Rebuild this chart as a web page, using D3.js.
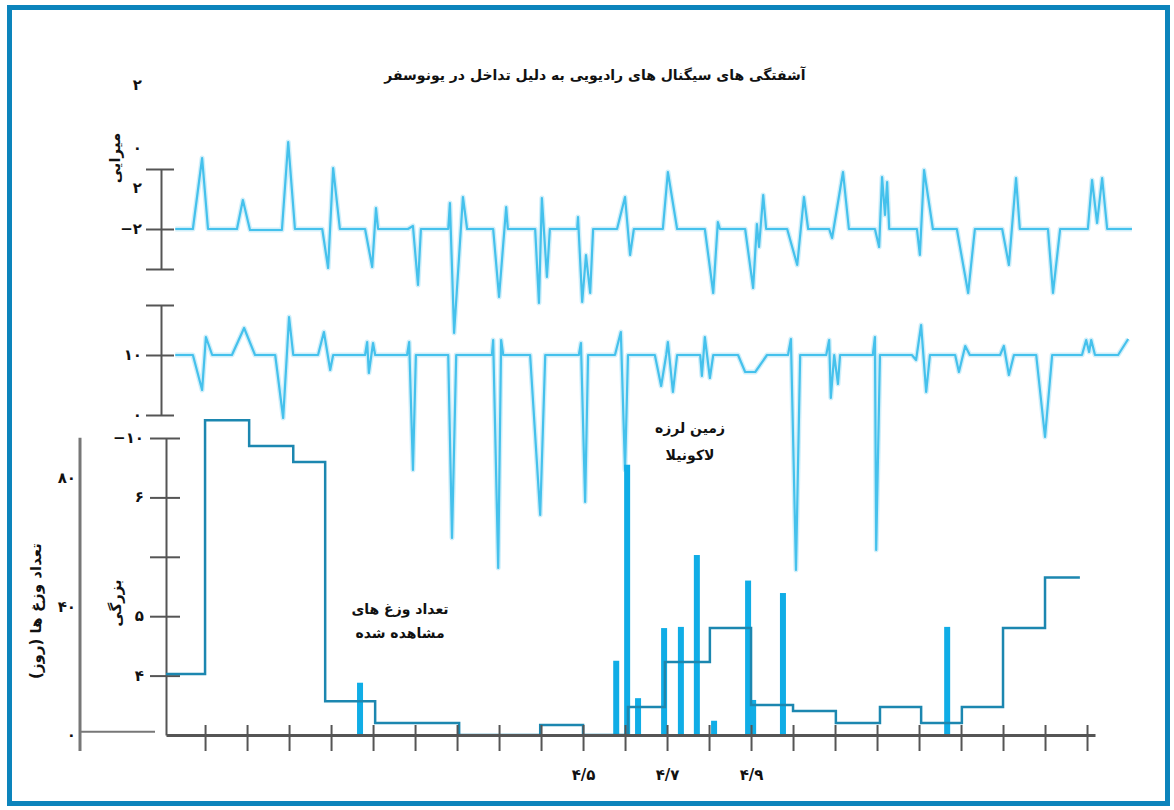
<!DOCTYPE html>
<html>
<head>
<meta charset="utf-8">
<script src="https://cdn.jsdelivr.net/npm/d3@7"></script>
<style>
  body { margin: 0; background: #fff; }
  text { font-family: "DejaVu Sans", sans-serif; font-weight: bold; fill: #111; }
</style>
</head>
<body>
<div id="chart"></div>
<script>
// days counted from 3/27 (tick 0); 4/5 is day 9
const dayTicks = d3.range(0, 22);
const dayLabels = {9: "۴/۵", 11: "۴/۷", 13: "۴/۹"};

// top trace (amplitude, arbitrary units), [day, value]
const traceTop = [
  [-0.71,0],[-0.29,0],[-0.07,7.1],[0.07,0],[0.76,0],[0.90,2.9],[1.07,-0.1],[1.83,-0.1],
  [1.98,8.7],[2.14,0],[2.79,0],[2.93,-3.9],[3.05,6.1],[3.21,0],[3.81,0],[3.98,-3.8],
  [4.07,2.1],[4.12,0],[4.83,0],[4.95,0.3],[5.07,-5.6],[5.14,0],[5.79,0],[5.83,2.6],
  [5.93,-10.4],[6.14,3.2],[6.24,0],[6.86,0],[7.00,-6.8],[7.17,2.2],[7.21,0],[7.86,0],
  [7.95,-7.4],[8.02,3.1],[8.14,-4.8],[8.21,0],[8.86,0],[8.88,1.2],[8.98,-7.3],[9.07,-2.6],
  [9.17,-6.4],[9.24,0],[9.81,0],[10.00,3.2],[10.12,-2.6],[10.21,0],[10.90,0],[11.02,5.7],
  [11.24,0],[11.90,0],[12.10,-6.4],[12.21,0.7],[12.26,0],[12.86,0],[13.05,-5.9],[13.14,0.5],
  [13.19,-1.8],[13.29,3.4],[13.36,0],[13.86,0],[14.10,-3.6],[14.26,3.2],[14.36,0],[14.86,0],
  [14.93,-0.9],[15.19,5.7],[15.33,0],[15.95,0],[16.05,-1.8],[16.12,5.2],[16.19,1.4],[16.24,4.7],
  [16.29,0],[16.95,0],[17.02,-2.6],[17.12,5.9],[17.33,0],[17.90,0],[18.17,-6.4],[18.33,0],
  [18.98,0],[19.14,-3.6],[19.31,5.1],[19.40,0],[20.07,0],[20.19,-6.4],[20.36,0],[21.02,0],
  [21.12,4.9],[21.24,0.6],[21.36,5.1],[21.48,0],[22.07,0]
];

// second trace
const traceMid = [
  [-0.71,0],[-0.29,0],[-0.07,-3.5],[0.02,1.8],[0.17,0],[0.64,0],[0.93,2.7],[1.19,0],
  [1.67,0],[1.86,-6.3],[2.00,3.8],[2.10,0],[2.69,0],[2.83,2.3],[2.98,-1.5],[3.05,0],
  [3.81,0],[3.86,1.3],[3.90,-1.8],[4.00,1.2],[4.05,0],[4.81,0],[4.86,1.3],[4.95,-11.5],
  [5.02,0],[5.79,0],[5.88,-18.3],[5.98,0],[6.83,0],[6.86,1.5],[6.98,-21.3],[7.05,1.5],
  [7.10,0],[7.74,0],[7.98,-16],[8.10,0],[8.90,0],[8.95,1.2],[9.05,-14.7],[9.12,0],
  [9.76,0],[9.90,2.3],[10.00,-11.5],[10.07,0],[10.71,0],[10.86,-3.1],[10.98,0],[11.02,1.3],
  [11.14,-3.7],[11.24,0],[11.79,0],[11.83,-2.1],[11.90,1.8],[12.02,-2.3],[12.10,0],[12.69,0],
  [12.86,-1.7],[13.10,-1.7],[13.38,0],[13.88,0],[13.95,1.6],[14.07,-21.5],[14.17,0],[14.79,0],
  [14.86,1.5],[14.90,-4.3],[14.98,0],[15.07,-2.9],[15.12,0],[15.90,0],[15.95,1.8],[15.98,-19.5],
  [16.07,0],[16.83,0],[16.93,-0.5],[17.05,3.0],[17.17,-3.7],[17.26,0],[17.86,0],[17.95,-1.7],
  [18.10,0.9],[18.21,0],[18.93,0],[19.02,0.9],[19.14,-2.0],[19.26,0],[19.79,0],[20.00,-8.2],
  [20.17,0],[20.88,0],[20.98,1.5],[21.05,0.3],[21.10,1.5],[21.19,0],[21.74,0],[21.98,1.6]
];

// observed toads per day (step)
const toadDays   = [-0.93, 0, 1.05, 2.1, 2.86, 4.05, 6.05, 7.98, 9, 10.07, 10.95, 12.02, 13.0, 14.0, 15.02, 16.07, 17.05, 18.02, 19.0, 20.0, 20.83];
const toadCounts = [19, 98, 90, 85, 10.5, 3.7, 0, 3.1, 0, 8.7, 22.7, 33.3, 9.3, 7.5, 3.7, 8.7, 3.7, 8.7, 33.3, 49, 49];

// earthquake magnitudes
const quakeDays = [3.69, 9.79, 10.05, 10.31, 10.93, 11.33, 11.71, 12.12, 12.93, 13.05, 13.76, 17.67];
const quakeMags = [3.88, 4.25, 7.55, 3.62, 4.8, 4.82, 6.03, 3.24, 5.6, 3.59, 5.39, 4.82];

const topLabels = [["۲", 14.4], ["۰", 8.1], ["۲", 4.1], ["−۲", 0]];
const midLabels = [["۱۰", 0], ["۰", -6]];
const magLabels = [["۴", 4], ["۵", 5], ["۶", 7], ["−۱۰", 8]];
const countLabels = [["۸۰", 80], ["۴۰", 40], ["۰", 0]];

const W = 1174, H = 810;
const traceColor = "#45c1ec", stepColor = "#1c87b0", barColor = "#10ade6", axisColor = "#555";

const svg = d3.select("#chart").append("svg").attr("width", W).attr("height", H);

svg.append("rect")
  .attr("x", 9.5).attr("y", 7.5).attr("width", 1158).attr("height", 796)
  .style("fill", "none").style("stroke", "#0c84bc").style("stroke-width", 5);

const x = d3.scaleLinear().domain([-0.93, 21.19]).range([166, 1095]);
const yTop = d3.scaleLinear().domain([-4, 6]).range([269, 169]);
const yMid = d3.scaleLinear().domain([-6, 5]).range([415, 305]);
const yCount = d3.scaleLinear().domain([0, 80]).range([735, 478]);
const yMag = d3.scaleLinear().domain([3, 8]).range([735, 438]);

// title
svg.append("text")
  .attr("x", 595).attr("y", 80)
  .attr("text-anchor", "middle")
  .attr("font-size", "14px")
  .text("آشفتگی های سیگنال های رادیویی به دلیل تداخل در یونوسفر");

// bracket-style axes
function capAxis(scale, vals, xpos, left, right){
  const g = svg.append("g").attr("transform", "translate(" + xpos + ",0)");
  g.call(d3.axisLeft(scale).tickValues(vals).tickFormat("").tickSizeOuter(0));
  g.select(".domain").style("stroke", axisColor).style("stroke-width", 2);
  g.selectAll(".tick line").attr("x1", -left).attr("x2", right)
    .style("stroke", axisColor).style("stroke-width", 2);
  return g;
}
capAxis(yTop, [-4, 0, 6], 161, 15, 13);
capAxis(yMid, [-6, 0, 5], 161, 15, 13);
capAxis(yMag, [4, 5, 6, 7, 8], 166, 16, 14);

function labels(arr, scale, xpos){
  svg.selectAll(null).data(arr).enter().append("text")
    .attr("x", xpos).attr("y", d => scale(d[1]) + 5)
    .attr("text-anchor", "end")
    .attr("font-size", "15px")
    .text(d => d[0]);
}
labels(topLabels, yTop, 142);
labels(midLabels, yMid, 142);
labels(magLabels, yMag, 144);
labels(countLabels, yCount, 76);

// count axis
svg.append("line")
  .attr("x1", 80).attr("x2", 80).attr("y1", yCount(92.5)).attr("y2", yCount(-5))
  .style("stroke", "#777").style("stroke-width", 3);
svg.append("line")
  .attr("x1", 80).attr("x2", 155).attr("y1", yCount(1)).attr("y2", yCount(1))
  .style("stroke", "#777").style("stroke-width", 2);

// rotated titles
function vlabel(txt, xpos, ypos){
  svg.append("text")
    .attr("transform", "translate(" + xpos + "," + ypos + ") rotate(-90)")
    .attr("text-anchor", "middle")
    .attr("font-size", "15px")
    .text(txt);
}
vlabel("میرایی", 120, 158);
vlabel("تعداد وزغ ها (روز)", 41, 611);
vlabel("بزرگی", 121, 603);

// traces
const lineTop = d3.line().x(d => x(d[0])).y(d => yTop(d[1]));
const lineMid = d3.line().x(d => x(d[0])).y(d => yMid(d[1]));
[[traceTop, lineTop], [traceMid, lineMid]].forEach(function(t){
  svg.append("path").attr("d", t[1](t[0]))
    .style("fill", "none").style("stroke", traceColor).style("stroke-opacity", 0.25)
    .style("stroke-width", 5).style("stroke-linejoin", "round");
  svg.append("path").attr("d", t[1](t[0]))
    .style("fill", "none").style("stroke", traceColor)
    .style("stroke-width", 2.2).style("stroke-linejoin", "round");
});

// earthquake bars
svg.selectAll(".bar").data(quakeDays).enter().append("rect")
  .attr("class", "bar")
  .attr("x", d => x(d) - 3)
  .attr("width", 6)
  .attr("y", (d, i) => yMag(quakeMags[i]))
  .attr("height", (d, i) => yMag(3) - yMag(quakeMags[i]))
  .style("fill", barColor);

// toad step line
const stepData = toadDays.map((d, i) => [d, toadCounts[i]]);
svg.append("path")
  .attr("d", d3.line().curve(d3.curveStepAfter).x(d => x(d[0])).y(d => yCount(d[1]))(stepData))
  .style("fill", "none").style("stroke", stepColor).style("stroke-width", 2.5);

// bottom time axis (drawn over the step line)
const gx = svg.append("g").attr("transform", "translate(0," + yMag(3) + ")");
gx.call(d3.axisBottom(x).tickValues(dayTicks).tickFormat(d => dayLabels[d] || "").tickSizeOuter(0));
gx.select(".domain").style("stroke", axisColor).style("stroke-width", 3);
gx.selectAll(".tick line").attr("y1", -10).attr("y2", 16)
  .style("stroke", axisColor).style("stroke-width", 2);
gx.selectAll(".tick text").attr("y", 34)
  .attr("font-family", "DejaVu Sans").attr("font-size", "15px").attr("font-weight", "bold")
  .style("fill", "#111");

// annotations
svg.append("text").attr("x", 400).attr("y", 614).attr("text-anchor", "middle")
  .attr("font-size", "14px").text("تعداد وزغ های");
svg.append("text").attr("x", 400).attr("y", 638).attr("text-anchor", "middle")
  .attr("font-size", "14px").text("مشاهده شده");
svg.append("text").attr("x", 690).attr("y", 433).attr("text-anchor", "middle")
  .attr("font-size", "14px").text("زمین لرزه");
svg.append("text").attr("x", 690).attr("y", 460).attr("text-anchor", "middle")
  .attr("font-size", "14px").text("لاکونیلا");
</script>
</body>
</html>
